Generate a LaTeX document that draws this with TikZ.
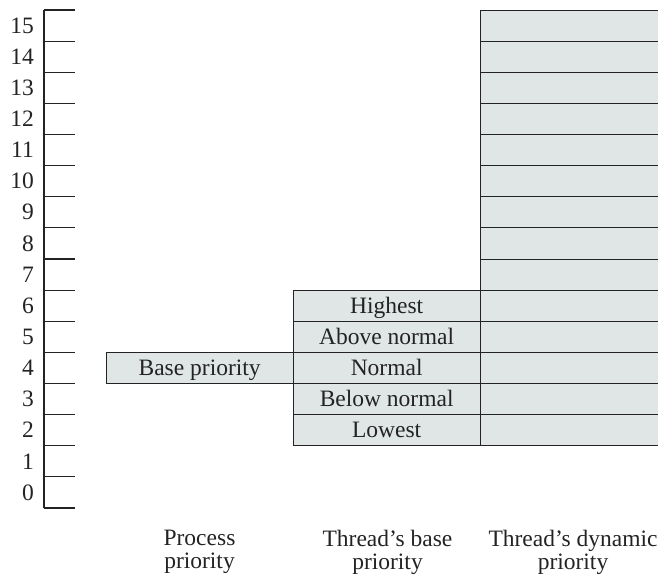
\documentclass[tikz,border=0pt]{standalone}
\usepackage{fontspec}
\setmainfont{Liberation Serif}
\definecolor{cellfill}{RGB}{224,230,230}
\definecolor{ink}{RGB}{35,35,35}
\begin{document}
\begin{tikzpicture}[x=1pt,y=-1pt,
  every node/.style={font=\fontsize{23.5}{23}\selectfont, text=ink},
  cell/.style={draw=ink, line width=0.9pt, fill=cellfill, inner sep=0pt, outer sep=0pt,
    minimum height=31.125pt, text height=15.5pt, text depth=0pt, anchor=center},
  numlabel/.style={anchor=east, inner sep=0pt},
  collabel/.style={anchor=north, align=center, inner sep=0pt},
  axisline/.style={draw=ink, line width=1.1pt}
]
\useasboundingbox (0,0) rectangle (658,577);
\clip (0,0) rectangle (658,577);
% level k: centre y = 10 + (15-k)*31.125 + 15.5625
% axis
\coordinate (axtop) at (44,10);
\coordinate (axbot) at (44,508);
\draw[axisline] (axtop) -- (axbot);
\foreach \k in {0,...,16}{
  \coordinate (tk\k) at (44,{10+\k*31.125});
  \coordinate (te\k) at (75,{10+\k*31.125});
  \draw[axisline] (tk\k) -- (te\k);
}
\foreach \k in {0,...,15}{
  \node[numlabel] (n\k) at (34,{10+(15-\k)*31.125+15.5625}) {\k};
}
% dynamic column
\foreach \k in {2,...,15}{
  \node[cell, minimum width=186pt] (dyn\k) at (573,{10+(15-\k)*31.125+15.5625}) {};
}
% thread base column
\node[cell, minimum width=186.7pt] (highest) at (386.65,{10+9*31.125+15.5625}) {Highest};
\node[cell, minimum width=186.7pt] (above) at (386.65,{10+10*31.125+15.5625}) {Above normal};
\node[cell, minimum width=186.7pt] (normal) at (386.65,{10+11*31.125+15.5625}) {Normal};
\node[cell, minimum width=186.7pt] (below) at (386.65,{10+12*31.125+15.5625}) {Below normal};
\node[cell, minimum width=186.7pt] (lowest) at (386.65,{10+13*31.125+15.5625}) {Lowest};
% process base priority
\node[cell, minimum width=187.3pt] (base) at (199.65,{10+11*31.125+15.5625}) {Base priority};
% column labels
\node[collabel] (lproc) at (199.5,529.7) {Process\\priority};
\node[collabel] (lbase) at (387.5,529.7) {Thread’s base\\priority};
\node[collabel] (ldyn) at (573,529.7) {Thread’s dynamic\\priority};
\end{tikzpicture}
\end{document}
